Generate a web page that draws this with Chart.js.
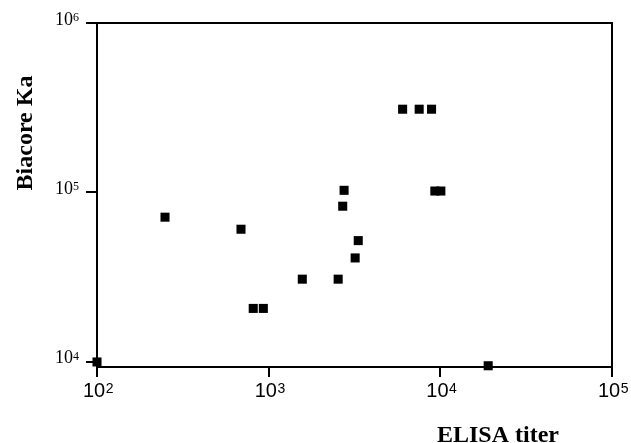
<!DOCTYPE html>
<html>
<head>
<meta charset="utf-8">
<script src="https://cdn.jsdelivr.net/npm/chart.js@4/dist/chart.umd.min.js"></script>
<style>
  html, body { margin: 0; padding: 0; background: #fff; }
  #wrap { width: 631px; height: 443px; }
</style>
</head>
<body>
<div id="wrap"><canvas id="c" width="631" height="443"></canvas></div>
<script>
// ELISA titer (x) vs Biacore Ka (y)
const elisaTiter = [100, 249, 690, 813, 931, 1570, 2540, 2700, 2750, 3190, 3325, 6030, 7530, 8890, 9290, 10070, 19000];
const biacoreKa  = [10000, 71500, 60700, 20700, 20700, 30800, 30800, 83000, 103000, 41100, 52000, 310000, 310000, 310000, 102000, 102000, 9500];

const xTickValues = [100, 1000, 10000, 100000];
const xTickExponents = ['2', '3', '4', '5'];
const yTickValues = [10000, 100000, 1000000];
const yTickExponents = ['4', '5', '6'];
const tickBase = '10';

const xTitle = 'ELISA titer';
const yTitle = 'Biacore Ka';

const points = elisaTiter.map((x, i) => ({ x: x, y: biacoreKa[i] }));

const SANS = '"Liberation Sans", Arial, sans-serif';
const SERIF = '"Liberation Serif", "Times New Roman", serif';

const framePlugin = {
  id: 'frame',
  afterDraw(chart) {
    const { ctx, chartArea } = chart;
    ctx.save();
    ctx.strokeStyle = '#000';
    ctx.lineWidth = 2;
    ctx.beginPath();
    ctx.moveTo(chartArea.left, chartArea.top);
    ctx.lineTo(chartArea.right, chartArea.top);
    ctx.lineTo(chartArea.right, chartArea.bottom);
    ctx.stroke();

    ctx.fillStyle = '#000';
    ctx.textBaseline = 'alphabetic';

    // x tick labels: 10 with superscript exponent, centered under tick
    const xs = chart.scales.x;
    xTickValues.forEach((v, i) => {
      const px = xs.getPixelForValue(v);
      ctx.font = '20px ' + SANS;
      const wBase = ctx.measureText(tickBase).width;
      ctx.font = '14px ' + SANS;
      const wExp = ctx.measureText(xTickExponents[i]).width;
      const left = px - (wBase + wExp) / 2 + 1;
      const base = 396.5;
      ctx.textAlign = 'left';
      ctx.font = '20px ' + SANS;
      ctx.fillText(tickBase, left, base);
      ctx.font = '14px ' + SANS;
      ctx.fillText(xTickExponents[i], left + wBase + 0.5, base - 4);
    });

    // y tick labels
    const ys = chart.scales.y;
    yTickValues.forEach((v, i) => {
      const py = ys.getPixelForValue(v);
      const base = py + 1.5;
      ctx.textAlign = 'right';
      ctx.font = '18px ' + SERIF;
      ctx.fillText(tickBase, 73, base);
      ctx.textAlign = 'left';
      ctx.font = '12px ' + SERIF;
      ctx.fillText(yTickExponents[i], 73, base - 3.5);
    });

    // axis titles
    ctx.font = 'bold 24px ' + SERIF;
    ctx.textAlign = 'center';
    ctx.fillText(xTitle, 498, 442);

    ctx.translate(32, 133);
    ctx.rotate(-Math.PI / 2);
    ctx.fillText(yTitle, 0, 0);
    ctx.restore();
  }
};

new Chart(document.getElementById('c'), {
  type: 'scatter',
  data: {
    datasets: [{
      data: points,
      pointStyle: 'rect',
      pointRadius: 6.4,
      pointHoverRadius: 6.4,
      backgroundColor: '#000',
      borderColor: '#000',
      borderWidth: 0,
      clip: false
    }]
  },
  options: {
    responsive: false,
    animation: false,
    devicePixelRatio: 1,
    layout: { padding: { left: 0, top: 23, right: 19, bottom: 0 } },
    plugins: { legend: { display: false }, tooltip: { enabled: false } },
    scales: {
      x: {
        type: 'logarithmic',
        min: 100,
        max: 100000,
        afterBuildTicks(scale) { scale.ticks = xTickValues.map(v => ({ value: v })); },
        afterFit(scale) { scale.height = 76; },
        border: { display: true, color: '#000', width: 2 },
        grid: { display: true, drawOnChartArea: false, drawTicks: true, tickLength: 10, color: '#000', lineWidth: 2 },
        ticks: { display: false, autoSkip: false }
      },
      y: {
        type: 'logarithmic',
        min: 9340,
        max: 1000000,
        afterBuildTicks(scale) { scale.ticks = yTickValues.map(v => ({ value: v })); },
        afterFit(scale) { scale.width = 97; },
        border: { display: true, color: '#000', width: 2 },
        grid: { display: true, drawOnChartArea: false, drawTicks: true, tickLength: 11, color: '#000', lineWidth: 2 },
        ticks: { display: false, autoSkip: false }
      }
    }
  },
  plugins: [framePlugin]
});
</script>
</body>
</html>
